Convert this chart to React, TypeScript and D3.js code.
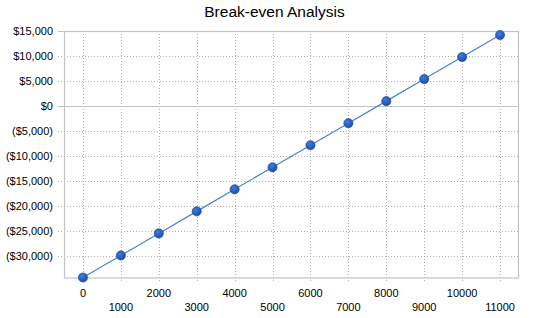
import React from "react";
import * as d3 from "d3";

const categories = ["0", "1000", "2000", "3000", "4000", "5000", "6000", "7000", "8000", "9000", "10000", "11000"];
const values = [-34200, -29800, -25400, -21000, -16600, -12200, -7800, -3400, 1000, 5400, 9800, 14200];
const yTicks = [15000, 10000, 5000, 0, -5000, -10000, -15000, -20000, -25000, -30000];
const title = "Break-even Analysis";

const W = 550, H = 318;
const M = { left: 64, right: 519, top: 31, bottom: 277.5 };

const fmt = (v: number) => {
  const s = "$" + d3.format(",")(Math.abs(v));
  return v < 0 ? `(${s})` : s;
};

export default function App() {
  const x = d3.scaleBand<string>().domain(categories).range([M.left, M.right]);
  const y = d3.scaleLinear().domain([-34200, 15000]).range([M.bottom, M.top]);
  const cx = (c: string) => (x(c) as number) + x.bandwidth() / 2;
  const line = d3.line<number>().x((_, i) => cx(categories[i])).y((d) => y(d));
  const font = "Arial, 'Liberation Sans', sans-serif";
  return (
    <svg width={W} height={H} style={{ position: "absolute", left: 0, top: 0 }} fontFamily={font}>
      <defs>
        <radialGradient id="mk" cx="40%" cy="35%" r="65%">
          <stop offset="0%" stopColor="#3f7be0" />
          <stop offset="100%" stopColor="#1a4fa8" />
        </radialGradient>
      </defs>
      <rect width={W} height={H} fill="#fff" />
      <text x={274.5} y={17} textAnchor="middle" fontSize={15.5} fill="#000">{title}</text>
      {/* horizontal grid */}
      {yTicks.map((t) => (
        <g key={t}>
          <line x1={M.left - 6} x2={M.right} y1={Math.round(y(t)) + 0.5} y2={Math.round(y(t)) + 0.5}
            stroke={t === 0 || t === 15000 ? "#c0c4c8" : "#b0b0b0"} strokeWidth={1}
            strokeDasharray={t === 0 || t === 15000 ? undefined : "1,2"} />
          {t === 0 && (
            <line x1={M.left - 6} x2={M.left} y1={Math.round(y(t)) + 0.5} y2={Math.round(y(t)) + 0.5}
              stroke="#b0b0b0" strokeDasharray="1,2" />
          )}
          <text x={53} y={y(t) + 4} textAnchor="end" fontSize={11} fill="#000">{fmt(t)}</text>
        </g>
      ))}
      {/* vertical grid */}
      {categories.map((c) => (
        <line key={c} x1={Math.round(cx(c)) + 0.5} x2={Math.round(cx(c)) + 0.5} y1={M.top} y2={M.bottom + 4}
          stroke="#b0b0b0" strokeDasharray="1,2" />
      ))}
      {/* frame */}
      <rect x={M.left + 0.5} y={M.top + 0.5} width={M.right - M.left - 1} height={M.bottom - M.top}
        fill="none" stroke="#c0c4c8" strokeWidth={1.2} />
      <line x1={M.left} x2={M.right} y1={Math.round(y(0)) + 0.5} y2={Math.round(y(0)) + 0.5} stroke="#c0c4c8" strokeWidth={1.2} />
      {/* x labels */}
      {categories.map((c, i) => (
        <text key={c} x={cx(c)} y={i % 2 === 0 ? 297 : 311} textAnchor="middle" fontSize={11} fill="#000">{c}</text>
      ))}
      <path d={line(values) || ""} fill="none" stroke="#4a80d8" strokeWidth={1.2} />
      {values.map((v, i) => (
        <circle key={i} cx={cx(categories[i])} cy={y(v)} r={4.6} fill="url(#mk)" stroke="#1a4a9a" strokeWidth={0.6} />
      ))}
    </svg>
  );
}
